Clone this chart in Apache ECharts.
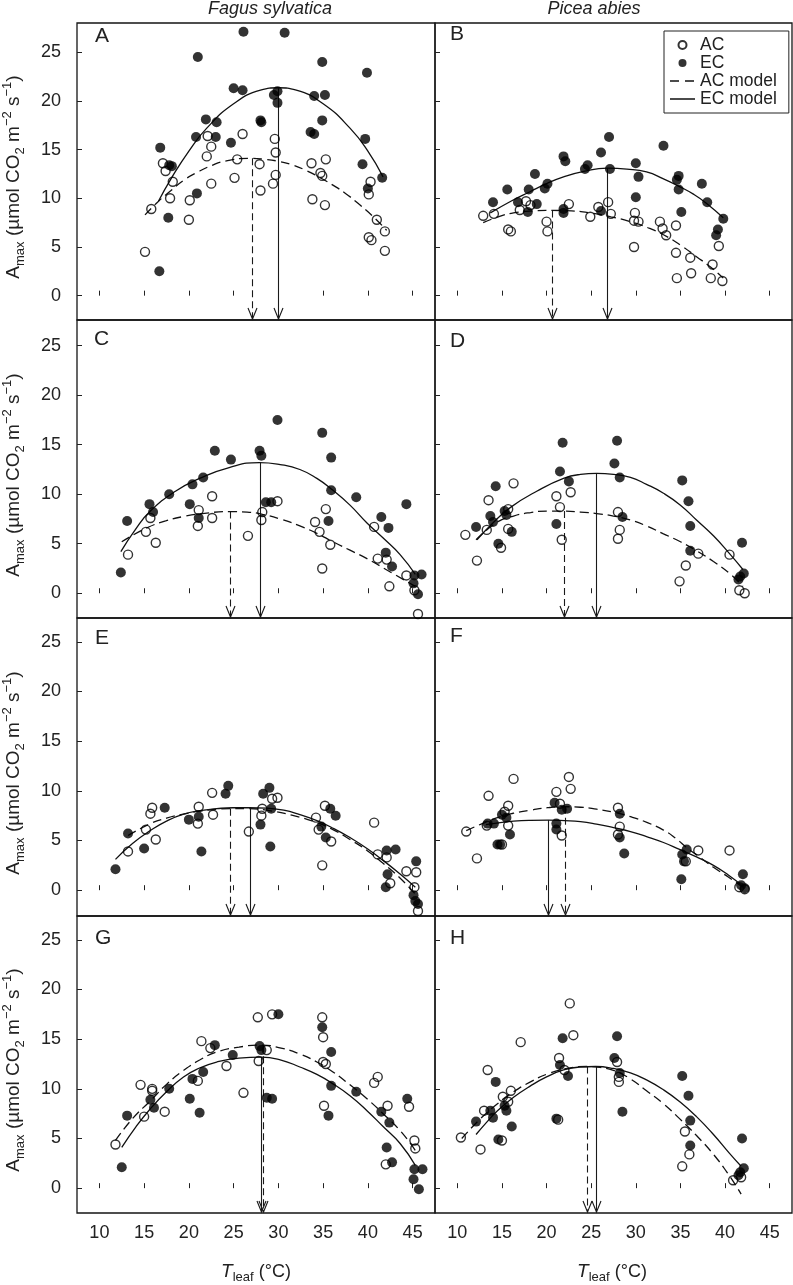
<!DOCTYPE html>
<html><head><meta charset="utf-8">
<script src="https://cdn.jsdelivr.net/npm/echarts@6/dist/echarts.min.js"></script>
<style>html,body{margin:0;padding:0;background:#fff}#c{width:793px;height:1285px}</style>
</head><body><div id="c"></div>
<script>
// ---------- DATA ----------
const xTicks = [10, 15, 20, 25, 30, 35, 40, 45];
const yTicks = [0, 5, 10, 15, 20, 25];
const panelLabels = ['A', 'B', 'C', 'D', 'E', 'F', 'G', 'H'];
const columnTitles = ['Fagus sylvatica', 'Picea abies'];
const legendNames = ['AC', 'EC', 'AC model', 'EC model'];

// Panel A (Fagus)
const A_AC = [[29.6,16.1],[26.0,16.6],[22.1,16.4],[22.5,15.3],[22.0,14.3],[25.4,14.0],[29.7,14.7],[17.1,13.6],[17.4,12.8],[27.9,13.5],[33.7,13.6],[35.3,14.0],[34.7,12.6],[34.9,12.3],[29.7,12.4],[29.4,11.5],[25.1,12.1],[22.5,11.5],[18.2,11.7],[40.3,11.7],[40.1,10.4],[17.9,10.0],[20.1,9.8],[28.0,10.8],[33.8,9.9],[35.2,9.3],[20.0,7.8],[41.0,7.8],[41.9,6.6],[40.1,6.0],[40.4,5.7],[41.9,4.6],[15.8,8.9],[15.1,4.5]];
const A_EC = [[26.1,27.1],[30.7,27.0],[21.0,24.5],[34.9,24.0],[39.9,22.9],[25.0,21.3],[26.0,21.1],[29.9,21.0],[29.5,20.6],[29.9,19.8],[34.0,20.5],[35.2,20.6],[21.9,18.1],[23.1,17.8],[28.0,18.0],[28.1,17.8],[34.9,18.0],[20.8,16.3],[23.0,16.3],[24.7,15.7],[33.6,16.8],[34.0,16.6],[39.7,16.1],[16.8,15.2],[17.8,13.4],[18.1,13.3],[39.4,13.5],[41.6,12.1],[40.0,11.0],[20.9,10.5],[17.7,8.0],[16.7,2.5]];
const A_ACfit = [[15.1,8.3],[16.5,9.6],[18,10.8],[19.5,11.9],[21,12.7],[22.5,13.35],[24,13.8],[26.8,14.1],[28.5,14.0],[30,13.8],[31.5,13.45],[33,12.9],[34.5,12.2],[36,11.4],[37.5,10.5],[39,9.4],[40.5,8.2],[42.1,6.7]];
const A_ECfit = [[16.6,9.7],[18,12.0],[20,14.85],[22,17.2],[25,19.7],[28,21.1],[30,21.35],[32,21.1],[35,19.7],[38,17.2],[40,14.85],[41.7,12.2]];
const A_peaks = [[27.0,14.1],[30.0,21.3]];

// Panel B (Picea)
const B_AC = [[12.9,8.2],[14.1,8.4],[17.0,8.8],[17.7,9.7],[18.2,9.3],[15.7,6.8],[16.0,6.6],[20.0,7.6],[20.1,6.6],[22.5,9.4],[24.9,8.1],[25.8,9.1],[26.9,9.6],[27.2,8.4],[29.9,8.5],[29.8,7.7],[30.3,7.6],[29.8,5.0],[32.7,7.6],[33.0,6.9],[33.4,6.2],[34.5,7.2],[34.5,4.4],[36.1,3.9],[34.6,1.8],[36.2,2.3],[38.6,3.2],[39.3,5.1],[38.4,1.8],[39.7,1.5]];
const B_EC = [[27.0,16.3],[33.1,15.4],[26.1,14.7],[21.9,14.3],[22.1,13.8],[30.0,13.6],[24.6,13.4],[24.3,13.0],[27.1,13.0],[18.7,12.5],[30.3,12.2],[34.8,12.3],[34.6,11.9],[20.1,11.5],[19.8,11.0],[15.6,10.9],[18.0,10.9],[37.4,11.5],[34.8,10.9],[14.0,9.6],[16.8,9.6],[18.9,9.4],[17.9,8.6],[21.9,8.9],[21.9,8.5],[26.1,8.7],[30.0,10.1],[35.1,8.6],[38.0,9.6],[39.8,7.9],[39.2,6.8],[39.0,6.2]];
const B_ACfit = [[12.9,7.5],[14.6,8.1],[16.3,8.5],[18.5,8.7],[20.6,8.75],[22.8,8.7],[24.9,8.5],[27.2,8.1],[29.4,7.6],[31.3,7.0],[33.1,6.25],[35.0,5.2],[36.8,4.0],[38.3,3.0],[39.8,1.8]];
const B_ECfit = [[13.7,8.5],[16.0,9.7],[18.2,10.7],[20.0,11.5],[21.9,12.2],[24.3,12.8],[26.8,13.1],[29.0,13.0],[31.2,12.7],[33.1,12.0],[34.9,11.2],[36.5,10.4],[37.9,9.5],[39.8,8.0]];
const B_peaks = [[20.6,8.75],[26.8,13.1]];

// Panel C
const C_AC = [[13.2,3.9],[15.2,6.2],[15.7,7.6],[16.3,5.1],[21.1,8.4],[21.0,6.8],[22.6,7.6],[22.6,9.8],[26.6,5.8],[28.2,8.2],[28.1,7.4],[29.9,9.3],[34.1,7.2],[34.6,6.2],[35.3,8.5],[34.9,2.5],[35.8,4.9],[40.7,6.7],[41.1,3.5],[42.1,3.4],[42.4,0.7],[44.3,1.8],[45.2,0.3],[45.6,-2.1]];
const C_EC = [[12.4,2.1],[13.1,7.3],[15.6,9.0],[16.0,8.2],[17.8,10.0],[20.4,11.0],[20.1,9.0],[21.1,7.6],[21.6,11.7],[22.9,14.4],[24.7,13.5],[27.9,14.4],[28.1,13.9],[28.6,9.2],[29.2,9.2],[29.9,17.5],[34.9,16.2],[35.9,13.7],[35.9,10.4],[35.6,7.3],[38.7,9.7],[41.5,7.7],[42.3,6.6],[42.0,4.1],[42.7,2.7],[44.3,9.0],[45.2,1.8],[46.0,1.9],[45.1,1.0],[45.6,-0.1]];
const C_ACfit = [[12.5,5.2],[15.3,6.6],[17.4,7.3],[19.4,7.75],[22.0,8.1],[24.6,8.25],[26.5,8.2],[28.3,7.95],[30.4,7.45],[32.4,6.8],[34.3,6.05],[36.1,5.2],[38.0,4.35],[39.9,3.5],[42.6,2.1],[45.3,0.7]];
const C_ECfit = [[12.4,4.2],[14.0,6.4],[15.7,8.3],[18.5,10.3],[21.2,11.6],[24.5,12.7],[27.9,13.2],[30.2,13.0],[32.4,12.5],[34.3,11.6],[36.1,10.4],[38.0,8.9],[39.9,7.1],[41.8,5.5],[43.6,3.9],[45.3,1.9]];
const C_peaks = [[24.6,8.25],[27.9,13.2]];

// Panel D
const D_AC = [[16.3,11.1],[13.5,9.4],[15.7,8.5],[13.3,6.4],[10.9,5.9],[15.7,6.5],[14.9,4.6],[12.2,3.3],[21.1,9.8],[22.7,10.2],[21.5,8.7],[21.7,5.4],[28.0,8.2],[28.2,6.4],[28.0,5.5],[37.0,4.0],[35.6,2.8],[34.9,1.2],[40.5,3.9],[41.6,0.3],[42.2,0.0]];
const D_EC = [[21.8,15.2],[27.9,15.4],[27.6,13.1],[21.5,12.3],[22.5,11.3],[28.2,11.7],[35.2,11.4],[35.9,9.3],[14.3,10.8],[15.3,8.3],[15.5,7.9],[13.7,7.8],[14.0,7.2],[12.1,6.7],[16.1,6.2],[21.1,7.0],[28.5,7.7],[36.1,6.8],[14.6,5.0],[36.1,4.3],[41.9,5.1],[42.1,2.0],[41.7,1.7],[41.5,1.4]];
const D_ACfit = [[12.1,5.4],[14.5,7.2],[16.3,7.8],[18.2,8.15],[20.1,8.3],[22.1,8.3],[23.8,8.2],[25.6,8.05],[27.5,7.8],[29.4,7.4],[31.2,6.8],[33.1,6.0],[35.0,5.2],[36.8,4.3],[38.7,3.2],[40.5,2.0],[42.0,0.7]];
const D_ECfit = [[12.2,5.4],[14.1,7.2],[16.0,8.7],[18.9,10.3],[21.9,11.6],[23.8,12.0],[25.6,12.1],[27.5,12.0],[29.4,11.7],[31.2,11.0],[33.1,10.1],[35.0,8.9],[36.8,7.4],[38.7,5.8],[40.5,4.0],[42.0,2.4]];
const D_peaks = [[22.0,8.3],[25.5,12.1]];

// Panel E
const E_AC = [[13.2,3.9],[15.9,8.3],[15.7,7.7],[15.2,6.1],[16.3,5.1],[21.1,8.4],[21.0,6.7],[22.7,7.6],[22.6,9.8],[26.7,5.9],[28.1,7.5],[28.2,8.2],[29.3,9.2],[29.9,9.3],[34.2,7.3],[34.5,6.1],[35.2,8.5],[34.9,2.5],[35.9,4.9],[40.7,6.8],[41.1,3.6],[42.1,3.3],[42.5,0.7],[44.3,1.9],[45.4,1.8],[45.2,0.3],[45.6,-2.1]];
const E_EC = [[11.8,2.1],[13.2,5.7],[15.0,4.2],[17.3,8.3],[20.0,7.1],[21.1,7.4],[21.4,3.9],[24.1,9.7],[24.4,10.5],[28.3,9.7],[29.0,10.3],[29.2,8.2],[28.0,6.6],[29.1,4.4],[34.8,6.4],[35.3,5.3],[35.8,8.2],[36.4,7.5],[42.1,4.0],[43.1,4.1],[42.2,1.6],[42.0,0.3],[45.4,2.9],[45.1,-0.5],[45.3,-1.1],[45.6,-1.4]];
const E_ACfit = [[13.2,5.5],[15.7,6.7],[17.5,7.25],[19.4,7.65],[21.2,7.95],[23.1,8.15],[24.6,8.2],[26.7,8.2],[28.7,8.05],[31.5,7.55],[34.3,6.8],[36.2,6.05],[38.0,5.1],[39.9,4.0],[41.7,2.7],[43.5,1.3],[45.3,-0.4]];
const E_ECfit = [[11.8,3.1],[13.7,4.7],[15.7,6.0],[17.5,6.95],[19.4,7.65],[21.2,8.0],[23.1,8.2],[24.9,8.3],[26.8,8.3],[28.7,8.25],[30.6,8.05],[32.4,7.6],[34.3,7.0],[36.2,6.2],[38.0,5.3],[39.9,4.2],[41.7,3.0],[43.5,1.7],[45.3,0.3]];
const E_peaks = [[24.6,8.2],[26.8,8.3]];

// Panel F
const F_AC = [[16.3,11.2],[13.5,9.5],[15.7,8.5],[15.3,7.9],[13.3,6.5],[11.0,5.9],[15.7,6.5],[12.2,3.2],[15.0,4.6],[21.1,9.9],[22.5,11.4],[22.7,10.2],[21.5,8.7],[21.7,5.5],[28.0,8.3],[28.2,6.4],[28.0,5.6],[37.0,4.0],[35.6,2.9],[40.5,4.0],[41.6,0.3],[42.2,0.1]];
const F_EC = [[20.9,8.8],[21.7,8.1],[22.3,8.2],[21.1,6.7],[21.1,6.1],[15.0,7.6],[15.5,7.3],[13.4,6.7],[14.1,6.7],[15.9,5.6],[14.5,4.6],[14.8,4.6],[28.2,7.7],[28.2,5.3],[28.7,3.7],[35.7,4.1],[35.2,3.6],[35.4,2.9],[35.1,1.1],[42.0,1.6],[42.2,0.2],[41.8,0.5]];
const F_ACfit = [[11.0,6.0],[12.8,6.7],[14.5,7.3],[16.3,7.75],[18.2,8.05],[20.1,8.3],[22.1,8.4],[23.8,8.35],[25.6,8.15],[27.5,7.85],[29.4,7.4],[31.3,6.8],[33.1,6.05],[34.5,5.2],[35.7,4.3],[37.2,3.3],[38.7,2.3],[40.4,1.3],[42.0,0.3]];
const F_ECfit = [[13.2,6.6],[14.8,6.8],[16.3,6.95],[18.2,7.03],[20.2,7.05],[22.0,7.0],[23.8,6.9],[25.6,6.65],[27.5,6.3],[29.4,5.9],[31.2,5.4],[33.1,4.8],[34.9,4.1],[36.8,3.35],[38.7,2.5],[40.4,1.5],[42.0,0.4]];
const F_peaks = [[22.1,8.4],[20.2,7.05]];

// Panel G
const G_AC = [[11.8,4.4],[14.6,10.4],[15.0,7.2],[15.9,10.0],[15.9,9.8],[17.3,7.7],[21.4,14.8],[22.4,14.1],[21.0,10.8],[24.2,12.3],[26.1,9.6],[27.7,17.2],[29.3,17.5],[28.7,13.9],[27.8,12.8],[34.9,17.2],[35.0,15.2],[35.0,12.7],[35.3,12.5],[35.1,8.3],[40.7,10.6],[41.1,11.2],[42.2,8.3],[44.6,8.2],[45.2,4.8],[45.3,4.0],[42.0,2.4]];
const G_EC = [[12.5,2.1],[13.1,7.3],[15.7,8.9],[16.1,8.1],[17.8,10.0],[20.4,11.0],[20.1,9.0],[21.2,7.6],[21.6,11.7],[22.9,14.4],[24.9,13.4],[27.9,14.3],[28.1,13.9],[28.7,9.1],[29.3,9.0],[30.0,17.5],[34.9,16.2],[35.9,13.7],[35.9,10.3],[35.6,7.3],[38.7,9.7],[41.5,7.7],[42.4,6.6],[42.1,4.1],[42.7,2.6],[44.4,9.0],[45.2,1.9],[46.1,1.9],[45.1,0.9],[45.7,-0.1]];
const G_ACfit = [[11.8,4.8],[13.7,7.0],[15.7,8.8],[17.5,10.45],[19.4,11.85],[21.2,12.9],[23.1,13.7],[25.6,14.2],[28.1,14.4],[30.3,14.1],[32.4,13.5],[34.3,12.7],[36.1,11.7],[38.0,10.4],[39.9,9.0],[41.7,7.5],[43.6,5.8],[45.3,3.8]];
const G_ECfit = [[12.5,4.1],[14.1,6.2],[15.7,8.0],[17.5,9.7],[19.4,11.2],[21.2,12.1],[23.1,12.7],[25.6,13.1],[28.1,13.2],[30.3,12.9],[32.4,12.2],[34.3,11.45],[36.1,10.5],[38.0,9.3],[39.9,7.8],[41.7,6.2],[43.6,4.5],[45.3,2.3]];
const G_peaks = [[28.3,14.4],[28.1,13.2]];

// Panel H
const H_AC = [[10.4,5.1],[12.6,3.9],[13.0,7.8],[13.4,11.9],[15.1,9.2],[16.0,9.8],[15.7,8.7],[15.0,4.8],[17.1,14.7],[22.6,18.6],[23.0,15.4],[21.4,13.1],[22.0,11.9],[21.3,6.9],[27.9,12.7],[28.1,11.2],[28.1,10.7],[35.5,5.7],[36.0,3.4],[35.2,2.2],[40.9,0.8],[41.8,1.1]];
const H_EC = [[21.8,15.1],[27.9,15.3],[27.6,13.1],[21.5,12.4],[22.4,11.3],[28.2,11.6],[35.2,11.3],[35.9,9.3],[14.3,10.7],[15.3,8.3],[15.5,7.8],[13.7,7.8],[14.0,7.1],[12.1,6.7],[16.1,6.2],[21.1,7.0],[28.5,7.7],[36.1,6.8],[14.6,4.9],[36.1,4.3],[41.9,5.0],[42.1,2.0],[41.7,1.6],[41.5,1.3]];
const H_ACfit = [[10.5,5.0],[12.6,7.0],[14.5,8.5],[16.3,9.7],[18.2,10.7],[20.1,11.5],[22.3,12.05],[24.5,12.25],[26.0,12.15],[27.5,11.85],[29.4,11.0],[31.2,9.8],[33.1,8.5],[34.9,7.0],[36.8,5.3],[38.7,3.4],[40.3,1.5],[41.8,-0.6]];
const H_ECfit = [[12.1,5.4],[13.3,6.65],[14.5,7.8],[16.3,9.15],[18.2,10.3],[20.0,11.2],[21.9,11.9],[23.7,12.2],[25.5,12.25],[27.5,12.05],[29.4,11.6],[31.2,10.9],[33.1,9.9],[35.0,8.65],[36.8,7.2],[38.7,5.4],[40.5,3.5],[41.8,2.2]];
const H_peaks = [[24.5,12.25],[25.5,12.25]];

// ---------- assembly ----------
const panels = [
  {ac: A_AC, ec: A_EC, acFit: A_ACfit, ecFit: A_ECfit, peaks: A_peaks},
  {ac: B_AC, ec: B_EC, acFit: B_ACfit, ecFit: B_ECfit, peaks: B_peaks},
  {ac: C_AC, ec: C_EC, acFit: C_ACfit, ecFit: C_ECfit, peaks: C_peaks},
  {ac: D_AC, ec: D_EC, acFit: D_ACfit, ecFit: D_ECfit, peaks: D_peaks},
  {ac: E_AC, ec: E_EC, acFit: E_ACfit, ecFit: E_ECfit, peaks: E_peaks},
  {ac: F_AC, ec: F_EC, acFit: F_ACfit, ecFit: F_ECfit, peaks: F_peaks},
  {ac: G_AC, ec: G_EC, acFit: G_ACfit, ecFit: G_ECfit, peaks: G_peaks},
  {ac: H_AC, ec: H_EC, acFit: H_ACfit, ecFit: H_ECfit, peaks: H_peaks}
];

const FONT = 'Liberation Sans, Arial, Helvetica, sans-serif';
const INK = '#000000';
const cols = [{left: 77, width: 358}, {left: 435, width: 357}];
const rows = [
  {top: 23, height: 297, min: -2.5, max: 28},
  {top: 320, height: 298, min: -2.5, max: 27.6},
  {top: 618, height: 298, min: -2.6, max: 27.4},
  {top: 916, height: 297, min: -2.5, max: 27.4}
];
const labelPos = [[95,26],[450,24],[94,329],[450,331],[95,628],[450,626],[95,928],[450,928]];
const yNameCenters = [177, 475, 773, 1070];

const grids = [], xAxes = [], yAxes = [], series = [];
const dashAC = [9, 5];

function renderArrow(params, api) {
  const cs = params.coordSys;
  const p = api.coord([api.value(0), api.value(1)]);
  const bottom = cs.y + cs.height;
  const dashed = api.value(2) === 0;
  const x = Math.round(p[0]) + 0.5;
  return {
    type: 'group',
    children: [
      {type: 'line', shape: {x1: x, y1: p[1], x2: x, y2: bottom - 1},
       style: {stroke: '#1a1a1a', lineWidth: 1.1, fill: null, lineDash: dashed ? [7, 4] : null}},
      {type: 'polyline', shape: {points: [[x - 4.5, bottom - 12], [x, bottom - 1], [x + 4.5, bottom - 12]]},
       style: {stroke: '#1a1a1a', lineWidth: 1.1, fill: null}}
    ]
  };
}

panels.forEach((pn, i) => {
  const r = Math.floor(i / 2), c = i % 2;
  grids.push({left: cols[c].left, width: cols[c].width, top: rows[r].top, height: rows[r].height,
    show: true, borderColor: '#151515', borderWidth: 1.3, backgroundColor: 'transparent'});
  xAxes.push({
    type: 'value', gridIndex: i, min: 7.5, max: 47.5,
    axisLine: {show: false},
    splitLine: {show: false},
    axisTick: {show: true, inside: true, length: 5, customValues: xTicks, lineStyle: {color: '#222', width: 1}},
    axisLabel: {show: r === 3, customValues: xTicks, margin: 11, fontSize: 18, color: '#222', fontFamily: FONT}
  });
  yAxes.push({
    type: 'value', gridIndex: i, min: rows[r].min, max: rows[r].max,
    axisLine: {show: false},
    splitLine: {show: false},
    axisTick: {show: true, inside: true, length: 5, customValues: yTicks, lineStyle: {color: '#222', width: 1}},
    axisLabel: {show: c === 0, customValues: yTicks, margin: 16, fontSize: 18, color: '#222', fontFamily: FONT}
  });
  series.push({
    name: 'AC model', type: 'line', xAxisIndex: i, yAxisIndex: i, data: pn.acFit,
    smooth: 0.5, symbol: 'none', silent: true,
    lineStyle: {color: '#111', width: 1.3, type: dashAC}, itemStyle: {color: '#111'}, z: 3
  });
  series.push({
    name: 'EC model', type: 'line', xAxisIndex: i, yAxisIndex: i, data: pn.ecFit,
    smooth: 0.5, symbol: 'none', silent: true,
    lineStyle: {color: '#111', width: 1.3, type: 'solid'}, itemStyle: {color: '#111'}, z: 3
  });
  series.push({
    name: 'AC', type: 'scatter', xAxisIndex: i, yAxisIndex: i, data: pn.ac,
    symbol: 'circle', symbolSize: 9,
    itemStyle: {color: 'rgba(255,255,255,0)', borderColor: INK, borderWidth: 1.4}, z: 4
  });
  series.push({
    name: 'EC', type: 'scatter', xAxisIndex: i, yAxisIndex: i, data: pn.ec,
    symbol: 'circle', symbolSize: 10,
    itemStyle: {color: INK, borderWidth: 0}, z: 5
  });
  series.push({
    name: 'peak' + i, type: 'custom', xAxisIndex: i, yAxisIndex: i,
    data: [[pn.peaks[0][0], pn.peaks[0][1], 0], [pn.peaks[1][0], pn.peaks[1][1], 1]],
    renderItem: renderArrow, silent: true, z: 3
  });
});

const graphics = [];
panelLabels.forEach((t, i) => {
  graphics.push({type: 'text', left: labelPos[i][0], top: labelPos[i][1], silent: true,
    style: {text: t, fontSize: 21, fontFamily: FONT, fill: '#222'}});
});
graphics.push({type: 'text', x: 270, y: 9, silent: true,
  style: {text: columnTitles[0], fontSize: 18, fontStyle: 'italic', fontFamily: FONT, fill: '#222',
    textAlign: 'center', textVerticalAlign: 'middle', align: 'center', verticalAlign: 'middle'}});
graphics.push({type: 'text', x: 594, y: 9, silent: true,
  style: {text: columnTitles[1], fontSize: 18, fontStyle: 'italic', fontFamily: FONT, fill: '#222',
    textAlign: 'center', textVerticalAlign: 'middle', align: 'center', verticalAlign: 'middle'}});

const yRich = {
  b: {fontSize: 19, lineHeight: 26, verticalAlign: 'middle', fontFamily: FONT, fill: '#222'},
  s: {fontSize: 13, lineHeight: 13, verticalAlign: 'bottom', fontFamily: FONT, fill: '#222'},
  p: {fontSize: 13, lineHeight: 13, verticalAlign: 'top', fontFamily: FONT, fill: '#222'}
};
yNameCenters.forEach(cy => {
  graphics.push({type: 'text', x: 14, y: cy, rotation: Math.PI / 2, silent: true,
    style: {text: '{b|A}{s|max}{b| (µmol CO}{s|2}{b| m}{p|−2}{b| s}{p|−1}{b|)}', rich: yRich,
      fontFamily: FONT, fill: '#222',
      textAlign: 'center', textVerticalAlign: 'middle', align: 'center', verticalAlign: 'middle'}});
});
const xRich = {
  i: {fontSize: 19, fontStyle: 'italic', lineHeight: 24, verticalAlign: 'middle', fontFamily: FONT, fill: '#222'},
  b: {fontSize: 18, lineHeight: 24, verticalAlign: 'middle', fontFamily: FONT, fill: '#222'},
  s: {fontSize: 13, lineHeight: 12, verticalAlign: 'bottom', fontFamily: FONT, fill: '#222'}
};
[256, 612].forEach(cx => {
  graphics.push({type: 'text', x: cx, y: 1272, silent: true,
    style: {text: '{i|T}{s|leaf}{b| (°C)}', rich: xRich, fontFamily: FONT, fill: '#222',
      textAlign: 'center', textVerticalAlign: 'middle', align: 'center', verticalAlign: 'middle'}});
});

// legend icons (corner dots keep the icon box 25x8 so the strokes stay thin)
const box = 'M0,0h0.01v0.01h-0.01z M24.99,7.99h0.01v0.01h-0.01z ';
const iconDashed = 'path://' + box + 'M0,3.35h9v1.3h-9z M15,3.35h9v1.3h-9z';
const iconSolid = 'path://' + box + 'M0,3.35h25v1.3h-25z';

const chart = echarts.init(document.getElementById('c'), null, {renderer: 'canvas'});
chart.setOption({
  backgroundColor: '#ffffff',
  animation: false,
  textStyle: {fontFamily: FONT},
  grid: grids,
  xAxis: xAxes,
  yAxis: yAxes,
  legend: {
    data: [
      {name: legendNames[0]},
      {name: legendNames[1]},
      {name: legendNames[2], icon: iconDashed, itemStyle: {color: '#111', borderWidth: 0}},
      {name: legendNames[3], icon: iconSolid, itemStyle: {color: '#111', borderWidth: 0}}
    ],
    orient: 'vertical', left: 664, top: 31,
    itemWidth: 25, itemHeight: 8, itemGap: 0,
    textStyle: {fontSize: 17.5, lineHeight: 18, color: '#222', fontFamily: FONT},
    borderColor: '#222', borderWidth: 1, padding: [5, 12, 5, 6],
    backgroundColor: '#ffffff', selectedMode: false
  },
  series: series,
  graphic: graphics
});
</script>
</body></html>
